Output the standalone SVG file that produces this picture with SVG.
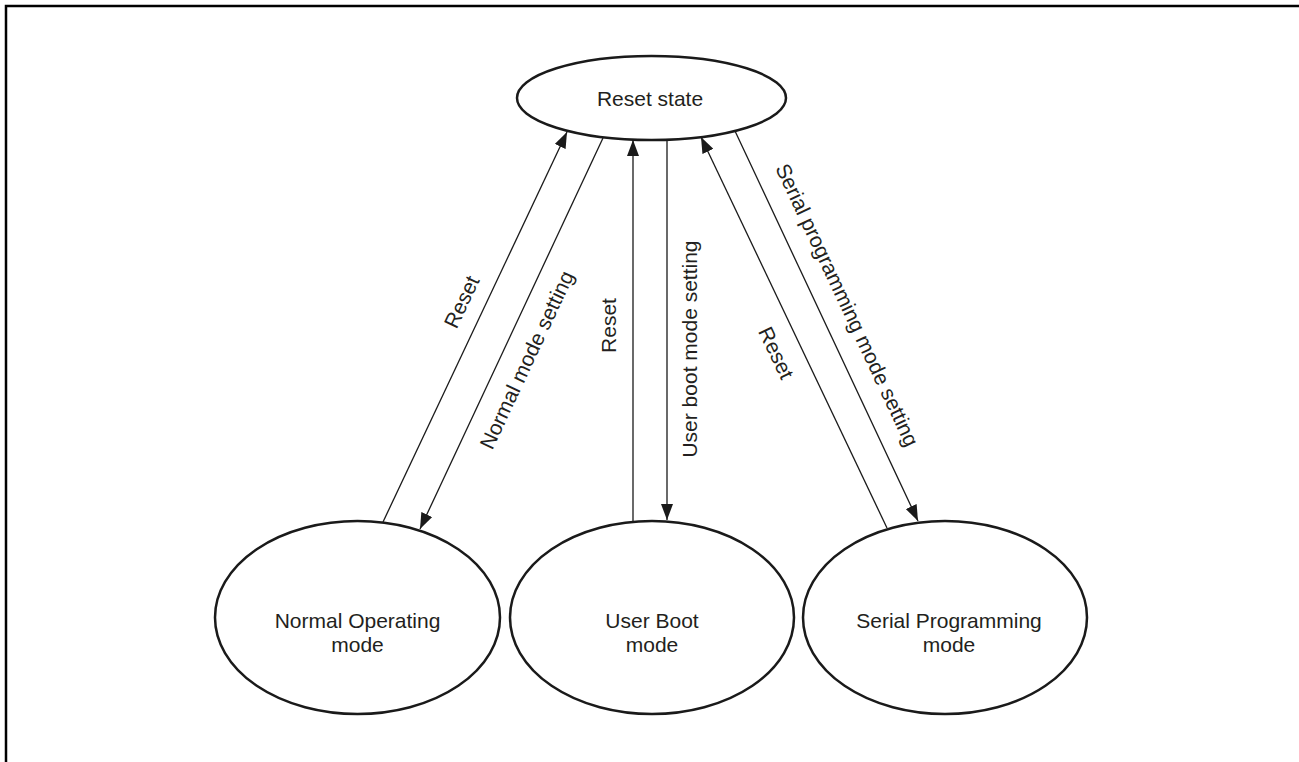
<svg xmlns="http://www.w3.org/2000/svg" width="1299" height="762" viewBox="0 0 1299 762">
<defs>
<style>
.node ellipse{fill:#fff;stroke:#1a1a1a;stroke-width:2.5}
text{font-family:"Liberation Sans",Arial,sans-serif;font-size:21px;fill:#231f20;text-anchor:middle}
.conn line{stroke:#1a1a1a;stroke-width:1.3}
.frame{fill:none;stroke:#000;stroke-width:2.5}
</style>
<marker id="arr" viewBox="0 0 16 12" refX="16" refY="6" markerWidth="16" markerHeight="12" markerUnits="userSpaceOnUse" orient="auto">
<path d="M0,0 L16,6 L0,12 Z" fill="#1a1a1a"/>
</marker>
</defs>
<rect class="frame" x="6" y="6" width="1400" height="1000"/>
<g id="connectors" class="conn">
<line x1="383" y1="522" x2="567" y2="132" marker-end="url(#arr)"/>
<line x1="603" y1="138" x2="420" y2="529" marker-end="url(#arr)"/>
<line x1="633" y1="521" x2="633" y2="140" marker-end="url(#arr)"/>
<line x1="667" y1="140" x2="667" y2="520" marker-end="url(#arr)"/>
<line x1="887" y1="528" x2="701" y2="137" marker-end="url(#arr)"/>
<line x1="735" y1="131" x2="918" y2="521" marker-end="url(#arr)"/>
<text transform="translate(462,302) rotate(-64.7)" y="7">Reset</text>
<text transform="translate(527,360) rotate(-64.9)" y="7">Normal mode setting</text>
<text transform="translate(608.5,325.5) rotate(-90)" y="7">Reset</text>
<text transform="translate(690,349) rotate(-90)" y="7">User boot mode setting</text>
<text transform="translate(776,353) rotate(64.4)" y="7">Reset</text>
<text transform="translate(847,305) rotate(64.9)" y="7">Serial programming mode setting</text>
</g>
<g id="reset-state" class="node">
<ellipse cx="651.5" cy="98" rx="134.5" ry="42"/>
<text x="650" y="106">Reset state</text>
</g>
<g id="normal-operating" class="node">
<ellipse cx="357.5" cy="617.5" rx="142.5" ry="96.5"/>
<text x="357.5" y="628">Normal Operating</text>
<text x="357.5" y="652">mode</text>
</g>
<g id="user-boot" class="node">
<ellipse cx="652" cy="617.5" rx="142" ry="96.5"/>
<text x="652" y="628">User Boot</text>
<text x="652" y="652">mode</text>
</g>
<g id="serial-programming" class="node">
<ellipse cx="945" cy="617.5" rx="142" ry="96.5"/>
<text x="949" y="628">Serial Programming</text>
<text x="949" y="652">mode</text>
</g>
</svg>
